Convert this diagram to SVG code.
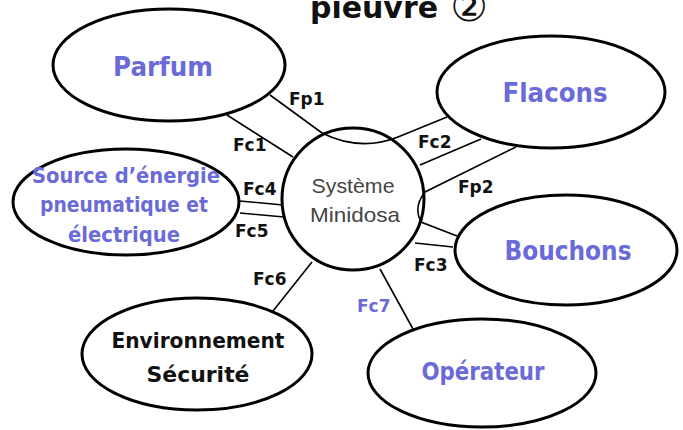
<svg xmlns="http://www.w3.org/2000/svg" width="683" height="430" viewBox="0 0 683 430">
<style>
.node{fill:#fff;stroke:#000;stroke-width:3}
.conn{fill:none;stroke:#000;stroke-width:1.6}
.lbl{font-family:"DejaVu Sans","Liberation Sans",sans-serif;font-weight:bold;font-size:17px;fill:#111}
.big{font-family:"DejaVu Sans","Liberation Sans",sans-serif;font-weight:bold;text-anchor:middle}
.blue{fill:#6a6ad8}
.dark{fill:#111}
.sys{font-family:"Liberation Sans","DejaVu Sans",sans-serif;font-size:21px;fill:#444;text-anchor:middle}
</style>
<rect width="683" height="430" fill="#fff"/>
<text x="310" y="18" font-family="DejaVu Sans,Liberation Sans,sans-serif" font-weight="bold" font-size="30" fill="#111" textLength="128" lengthAdjust="spacingAndGlyphs">pieuvre</text>
<text x="469" y="21" font-family="DejaVu Sans,Noto Sans CJK JP,sans-serif" font-size="42" fill="#111" text-anchor="middle">②</text>
<g id="connectors">
<path class="conn" d="M270,95 L322,133 Q360,152 398,137 L447,117"/>
<path class="conn" d="M227,115 L293,157"/>
<path class="conn" d="M420,165 L481,139"/>
<path class="conn" d="M516,147 L425,192 Q413,207 421,222 L457,236"/>
<path class="conn" d="M415,243 L453,247"/>
<path class="conn" d="M240,201 L283,205"/>
<path class="conn" d="M240,213 L284,217"/>
<path class="conn" d="M312,262 L273,311"/>
<path class="conn" d="M380,269 L413,329"/>
<text class="lbl" x="289" y="105">Fp1</text>
<text class="lbl" x="233" y="151">Fc1</text>
<text class="lbl" x="418" y="148">Fc2</text>
<text class="lbl" x="458" y="193">Fp2</text>
<text class="lbl" x="414" y="271">Fc3</text>
<text class="lbl" x="243" y="195">Fc4</text>
<text class="lbl" x="235" y="237">Fc5</text>
<text class="lbl" x="253" y="285">Fc6</text>
<text class="lbl blue" x="357" y="312">Fc7</text>
</g>
<g id="systeme">
<circle class="node" cx="353" cy="199" r="71" style="fill:none"/>
<text class="sys" x="353" y="193" textLength="83" lengthAdjust="spacingAndGlyphs">Système</text>
<text class="sys" x="355" y="222" textLength="90" lengthAdjust="spacingAndGlyphs">Minidosa</text>
</g>
<g id="parfum">
<ellipse class="node" cx="169" cy="65" rx="116" ry="56"/>
<text class="big blue" x="163" y="76" font-size="26" textLength="100" lengthAdjust="spacingAndGlyphs">Parfum</text>
</g>
<g id="flacons">
<ellipse class="node" cx="551" cy="92" rx="114" ry="56"/>
<text class="big blue" x="555" y="102" font-size="26" textLength="105" lengthAdjust="spacingAndGlyphs">Flacons</text>
</g>
<g id="source">
<ellipse class="node" cx="126" cy="202" rx="113" ry="53"/>
<text class="big blue" x="126" y="183" font-size="22" textLength="188" lengthAdjust="spacingAndGlyphs">Source d’énergie</text>
<text class="big blue" x="124" y="212" font-size="22" textLength="168" lengthAdjust="spacingAndGlyphs">pneumatique et</text>
<text class="big blue" x="124" y="242" font-size="22" textLength="112" lengthAdjust="spacingAndGlyphs">électrique</text>
</g>
<g id="bouchons">
<ellipse class="node" cx="566" cy="250" rx="111" ry="55"/>
<text class="big blue" x="568" y="260" font-size="26" textLength="127" lengthAdjust="spacingAndGlyphs">Bouchons</text>
</g>
<g id="environnement">
<ellipse class="node" cx="197" cy="354" rx="115" ry="56"/>
<text class="big dark" x="198" y="348" font-size="22" textLength="173" lengthAdjust="spacingAndGlyphs">Environnement</text>
<text class="big dark" x="198" y="382" font-size="22" textLength="103" lengthAdjust="spacingAndGlyphs">Sécurité</text>
</g>
<g id="operateur">
<ellipse class="node" cx="482" cy="373" rx="114" ry="54"/>
<text class="big blue" x="483" y="380" font-size="24" textLength="123" lengthAdjust="spacingAndGlyphs">Opérateur</text>
</g>
</svg>
